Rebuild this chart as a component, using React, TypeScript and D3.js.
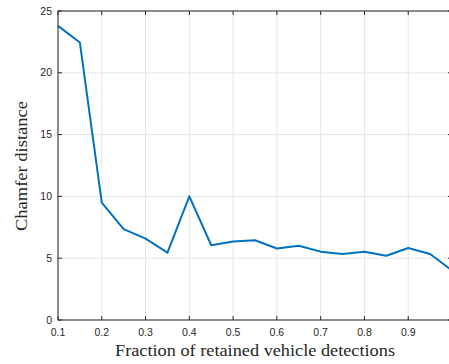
import React from "react";
import * as d3 from "d3";

const fractions = [0.1, 0.15, 0.2, 0.25, 0.3, 0.35, 0.4, 0.45, 0.5, 0.55, 0.6, 0.65, 0.7, 0.75, 0.8, 0.85, 0.9, 0.95, 1.0];
const chamfer = [23.8, 22.45, 9.5, 7.35, 6.58, 5.45, 10.0, 6.05, 6.35, 6.45, 5.78, 6.0, 5.53, 5.34, 5.53, 5.2, 5.83, 5.34, 4.0];
const xTicks = [0.1, 0.2, 0.3, 0.4, 0.5, 0.6, 0.7, 0.8, 0.9, 1.0];
const xTickLabels = ["0.1", "0.2", "0.3", "0.4", "0.5", "0.6", "0.7", "0.8", "0.9", ""];
const yTicks = [0, 5, 10, 15, 20, 25];
const xLabel = "Fraction of retained vehicle detections";
const yLabel = "Chamfer distance";

export default function App() {
  const W = 449, H = 364;
  const left = 58, right = 452, top = 11, bottom = 320;
  const x = d3.scaleLinear().domain([0.1, 1.0]).range([left, right]);
  const y = d3.scaleLinear().domain([0, 25]).range([bottom, top]);
  const line = d3.line<number>().x((_, i) => x(fractions[i])).y((d) => y(d));
  const axisColor = "#262626";
  const gridColor = "#e5e5e5";
  const tickLen = 4;
  const tickFont = "'Liberation Sans', Arial, sans-serif";
  const serif = "'Liberation Serif', 'Times New Roman', serif";
  return (
    <svg width={W} height={H} style={{ position: "absolute", left: 0, top: 0, background: "#fff" }}>
      <rect x={0} y={0} width={W} height={H} fill="#fff" />
      {xTicks.map((t) => (
        <line key={"gx" + t} x1={x(t)} x2={x(t)} y1={top} y2={bottom} stroke={gridColor} strokeWidth={1} />
      ))}
      {yTicks.map((t) => (
        <line key={"gy" + t} x1={left} x2={right} y1={y(t)} y2={y(t)} stroke={gridColor} strokeWidth={1} />
      ))}
      <path d={line(chamfer) || ""} fill="none" stroke="#0072BD" strokeWidth={2} strokeLinejoin="round" />
      <rect x={left} y={top} width={right - left} height={bottom - top} fill="none" stroke={axisColor} strokeWidth={1} />
      {xTicks.map((t, i) => (
        <g key={"tx" + t}>
          <line x1={x(t)} x2={x(t)} y1={bottom} y2={bottom - tickLen} stroke={axisColor} />
          <line x1={x(t)} x2={x(t)} y1={top} y2={top + tickLen} stroke={axisColor} />
          {xTickLabels[i] && (
            <text x={x(t)} y={336} textAnchor="middle" fontFamily={tickFont} fontSize={10.5} fill={axisColor}>
              {xTickLabels[i]}
            </text>
          )}
        </g>
      ))}
      {yTicks.map((t) => (
        <g key={"ty" + t}>
          <line x1={left} x2={left + tickLen} y1={y(t)} y2={y(t)} stroke={axisColor} />
          <line x1={right} x2={right - tickLen} y1={y(t)} y2={y(t)} stroke={axisColor} />
          <text x={52} y={y(t)} dy="0.35em" textAnchor="end" fontFamily={tickFont} fontSize={10.5} fill={axisColor}>
            {t}
          </text>
        </g>
      ))}
      <text x={255} y={356} textAnchor="middle" fontFamily={serif} fontSize={16} fill={axisColor}
        textLength={280} lengthAdjust="spacingAndGlyphs">
        {xLabel}
      </text>
      <text transform={`translate(27,166) rotate(-90)`} textAnchor="middle" fontFamily={serif} fontSize={16} fill={axisColor}
        textLength={130} lengthAdjust="spacingAndGlyphs">
        {yLabel}
      </text>
    </svg>
  );
}
